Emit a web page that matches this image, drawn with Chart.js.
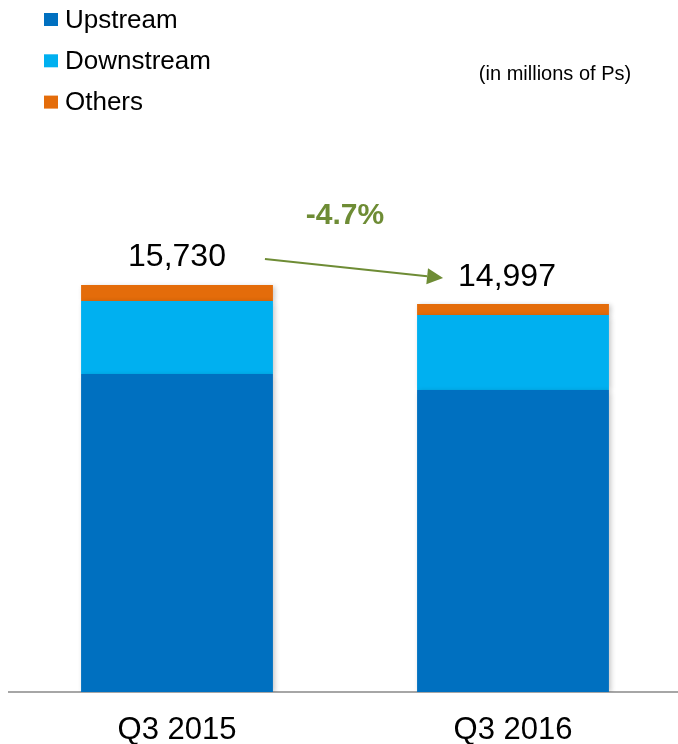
<!DOCTYPE html>
<html>
<head>
<meta charset="utf-8">
<style>
  html, body { margin: 0; padding: 0; background: #fff; overflow: hidden; }
  #sales { display: block; }
</style>
<script src="https://cdn.jsdelivr.net/npm/chart.js@4.4.1/dist/chart.umd.min.js"></script>
</head>
<body>
<canvas id="sales" width="682" height="744"></canvas>
<script>
var quarters = ['Q3 2015', 'Q3 2016'];
var upstream = [12290, 11673];
var downstream = [2821, 2899];
var others = [619, 425];

var seriesNames = ['Upstream', 'Downstream', 'Others'];
var seriesColors = ['#0070c0', '#00b0f0', '#e46c0a'];

var FONT = '"Liberation Sans", Arial, sans-serif';
var GREEN = '#6e8c35';

function totals() {
    return quarters.map(function(q, i) {
        return upstream[i] + downstream[i] + others[i];
    });
}

function fmt(n) {
    return n.toString().replace(/\B(?=(\d{3})+(?!\d))/g, ',');
}

// soft shadow under the stacked bars
var barShadow = {
    id: 'barShadow',
    beforeDatasetsDraw: function(chart) {
        var ctx = chart.ctx;
        ctx.save();
        ctx.shadowColor = 'rgba(0,0,0,0.22)';
        ctx.shadowBlur = 5;
        ctx.shadowOffsetX = 2;
        ctx.shadowOffsetY = 1;
    },
    afterDatasetsDraw: function(chart) {
        chart.ctx.restore();
    }
};

// legend stacked in the top-left corner, unit note, totals and the change arrow
var decorations = {
    id: 'decorations',
    afterDraw: function(chart) {
        var ctx = chart.ctx;
        ctx.save();

        // legend
        ctx.textBaseline = 'middle';
        ctx.textAlign = 'left';
        ctx.font = '26px ' + FONT;
        chart.data.datasets.forEach(function(ds, i) {
            var cy = 19.5 + i * 41.3;
            ctx.fillStyle = ds.backgroundColor;
            ctx.fillRect(44, cy - 6.5, 14, 13);
            ctx.fillStyle = '#000';
            ctx.fillText(ds.label, 65, cy + 1);
        });

        ctx.font = '20px ' + FONT;
        ctx.textAlign = 'center';
        ctx.fillText('(in millions of Ps)', 555, 74);

        // totals above each bar
        var sums = totals();
        var y = chart.scales.y;
        var meta = chart.getDatasetMeta(0);
        var pts = [];
        ctx.font = '32px ' + FONT;
        ctx.fillStyle = '#000';
        sums.forEach(function(s, i) {
            var bx = meta.data[i].x;
            var ty = y.getPixelForValue(s) - (i === 0 ? 28 : 27);
            pts.push({ x: bx, y: ty, w: meta.data[i].width });
            ctx.fillText(fmt(s), bx + (i === 1 ? -6 : 0), ty);
        });

        // change arrow between the totals
        var x0 = pts[0].x + pts[0].w / 2 - 8, y0 = pts[0].y + 2;
        var x1 = pts[1].x - pts[1].w / 2 + 26, y1 = pts[1].y + 1;
        var ang = Math.atan2(y1 - y0, x1 - x0);
        var head = 16;
        ctx.strokeStyle = GREEN;
        ctx.fillStyle = GREEN;
        ctx.lineWidth = 2;
        ctx.beginPath();
        ctx.moveTo(x0, y0);
        ctx.lineTo(x1 - head * Math.cos(ang), y1 - head * Math.sin(ang));
        ctx.stroke();
        ctx.beginPath();
        ctx.moveTo(x1, y1);
        ctx.lineTo(x1 - head * Math.cos(ang) + 8 * Math.sin(ang), y1 - head * Math.sin(ang) - 8 * Math.cos(ang));
        ctx.lineTo(x1 - head * Math.cos(ang) - 8 * Math.sin(ang), y1 - head * Math.sin(ang) + 8 * Math.cos(ang));
        ctx.closePath();
        ctx.fill();

        var pct = (sums[1] / sums[0] - 1) * 100;
        ctx.font = 'bold 30px ' + FONT;
        ctx.fillText(pct.toFixed(1) + '%', 345, 216);

        ctx.restore();
    }
};

var config = {
    type: 'bar',
    data: {
        labels: quarters,
        datasets: [
            { label: seriesNames[0], data: upstream, backgroundColor: seriesColors[0] },
            { label: seriesNames[1], data: downstream, backgroundColor: seriesColors[1] },
            { label: seriesNames[2], data: others, backgroundColor: seriesColors[2] }
        ]
    },
    options: {
        responsive: false,
        animation: false,
        layout: {
            padding: { top: 174.5, left: 9, right: 1, bottom: 0 }
        },
        datasets: {
            bar: {
                barPercentage: 0.571,
                categoryPercentage: 1,
                borderWidth: 0
            }
        },
        plugins: {
            legend: { display: false },
            title: { display: false },
            tooltip: { enabled: false }
        },
        scales: {
            x: {
                stacked: true,
                grid: { display: false, drawTicks: false },
                border: { display: true, color: '#a6a6a6', width: 2 },
                ticks: {
                    color: '#000',
                    padding: 20,
                    font: { family: FONT, size: 31 }
                },
                afterFit: function(scale) { scale.height = 52; }
            },
            y: {
                stacked: true,
                display: false,
                min: 0,
                max: 20000
            }
        }
    },
    plugins: [barShadow, decorations]
};

window.onload = function() {
    var ctx = document.getElementById('sales').getContext('2d');
    window.salesChart = new Chart(ctx, config);
};
</script>
</body>
</html>
